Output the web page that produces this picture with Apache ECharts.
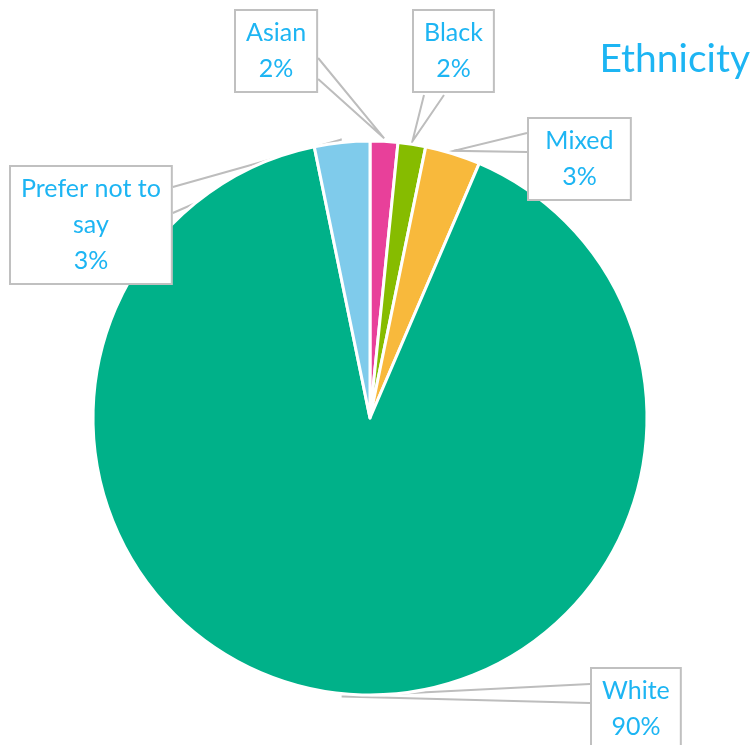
<!DOCTYPE html>
<html>
<head>
<meta charset="utf-8">
<script src="https://cdn.jsdelivr.net/npm/echarts@6/dist/echarts.min.js"></script>
<style>
  html, body { margin: 0; padding: 0; background: #fff; }
  #main { width: 754px; height: 745px; }
</style>
</head>
<body>
<div id="main"></div>
<script>
  // ethnicity counts (respondents)
  var categories = ['Asian', 'Black', 'Mixed', 'White', 'Prefer not to say'];
  var counts = [1, 1, 2, 56, 2];
  var colors = ['#e8409a', '#86bc00', '#f8b93c', '#00b189', '#7fcbeb'];

  // callout boxes: top-left corner and where the pointer leaves the box
  var callouts = [
    { x: 234, y: 11, side: 'right', a: 47, b: 68 },
    { x: 412, y: 11, side: 'bottom', a: 12, b: 32 },
    { x: 527, y: 119, side: 'left', a: 14, b: 33 },
    { x: 590, y: 669, side: 'left', a: 15, b: 34 },
    { x: 9, y: 167, side: 'right', a: 20, b: 46 }
  ];

  var txtColor = '#1db5f3';
  var cx = 370, cy = 418, R = 277;
  var myChart = echarts.init(document.getElementById('main'));

  var total = counts.reduce(function (s, v) { return s + v; }, 0);
  var midAngles = [];
  var acc = 0;
  counts.forEach(function (v) {
    midAngles.push((acc + v / 2) / total * Math.PI * 2);
    acc += v;
  });

  var data = categories.map(function (c, i) {
    return { name: c, value: counts[i], itemStyle: { color: colors[i] } };
  });

  var option = {
    animation: false,
    title: {
      text: 'Ethnicity',
      right: 4,
      top: 40,
      padding: 0,
      textStyle: { color: txtColor, fontSize: 39, fontWeight: 'normal', fontFamily: 'Lato' }
    },
    series: [{
      type: 'pie',
      center: [cx, cy],
      radius: R,
      startAngle: 90,
      clockwise: true,
      percentPrecision: 0,
      data: data,
      itemStyle: { borderColor: '#fff', borderWidth: 3 },
      label: {
        show: true,
        position: 'outside',
        formatter: function (p) {
          return p.name.replace('not to ', 'not to\n') + '\n' + p.percent + '%';
        },
        color: txtColor,
        fontFamily: 'Lato',
        fontSize: 25,
        lineHeight: 36,
        align: 'center',
        backgroundColor: '#fff',
        borderColor: '#c0c0c0',
        borderWidth: 2,
        padding: [4, 10, 4, 10]
      },
      labelLine: {
        show: true,
        length: 10,
        length2: 10,
        lineStyle: { color: '#bdbdbd', width: 2 }
      },
      labelLayout: function (params) {
        var i = params.dataIndex;
        var c = callouts[i];
        var w = params.labelRect.width, h = params.labelRect.height;
        // pointer tip sits just outside the slice edge, at its middle
        var r = R + 3;
        var tip = [cx + r * Math.sin(midAngles[i]), cy - r * Math.cos(midAngles[i])];
        var p1, p2;
        if (c.side === 'right') {
          p1 = [c.x + w, c.y + c.a]; p2 = [c.x + w, c.y + c.b];
        } else if (c.side === 'left') {
          p1 = [c.x, c.y + c.a]; p2 = [c.x, c.y + c.b];
        } else {
          p1 = [c.x + c.a, c.y + h]; p2 = [c.x + c.b, c.y + h];
        }
        return {
          x: c.x + w / 2,
          y: c.y,
          align: 'center',
          verticalAlign: 'top',
          labelLinePoints: [p1, tip, p2]
        };
      }
    }]
  };
  myChart.setOption(option);
</script>
</body>
</html>
